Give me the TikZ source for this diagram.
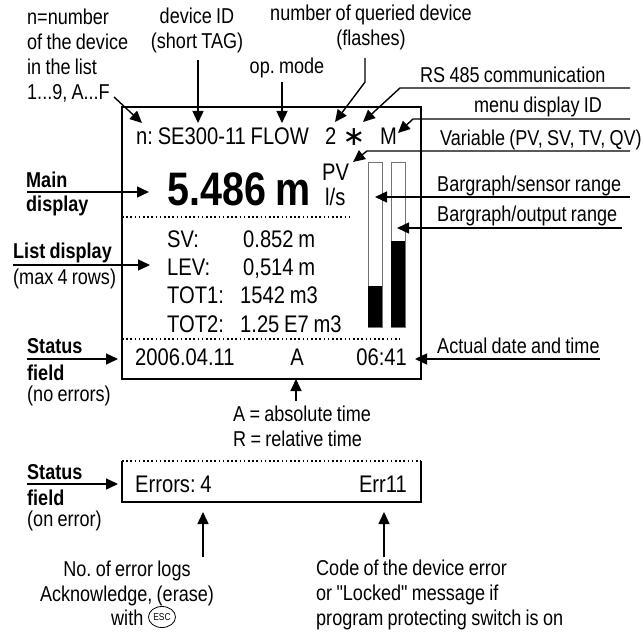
\documentclass[tikz,border=0pt]{standalone}
\usepackage{fontspec}
\setmainfont{Liberation Sans}[FakeStretch=0.84,WordSpace=0.85,Ligatures=TeXOff]
\newfontfamily\symfont{DejaVu Sans}
\usetikzlibrary{arrows.meta,positioning,shapes.geometric}
\newcommand{\lblfont}{\fontsize{21.5}{25}\selectfont}
\newcommand{\lcdfont}{\fontsize{24}{28}\selectfont}
\frenchspacing
\tikzset{
  >={Triangle[length=12pt,width=11pt]},
  lbl/.style={font=\lblfont,inner sep=0pt,anchor=base west},
  blbl/.style={lbl,font=\lblfont\bfseries},
  lcd/.style={font=\lcdfont,inner sep=0pt,anchor=base west},
  arr/.style={->,line width=1.4pt},
  frame/.style={line width=2pt},
  dots/.style={line width=1.6pt,dash pattern=on 1.6pt off 2.6pt},
  bar/.style={draw=black!55,line width=1pt},
}

\begin{document}
\begin{tikzpicture}[x=1pt,y=-1pt]
\useasboundingbox (0,0) rectangle (644,631);

% display frame and separators
\draw[frame] (122,107) rectangle (421,379);
\draw[dots] (122,217) -- (350,217);
\draw[dots] (122,339) -- (400,339);

% header line
\node[lcd] (tag) at (136,145) {n: SE300-11 FLOW};
\node[lcd] (qnum) at (325,145) {2};
\node[inner sep=0pt,font=\symfont\fontsize{27}{27}\selectfont] (comm) at (354,137) {∗};
\node[lcd] (menu) at (380,145) {M};

% main value
\node[lcd,font=\fontsize{47}{50}\selectfont\bfseries] (pv) at (167,205) {5.486 m};
\node[lcd] (var) at (322,180) {PV};
\node[lcd] (unit) at (325,205) {l/s};

% list rows
\foreach \k/\v/\x/\y [count=\i] in {SV:/0.852 m/243/247, LEV:/{0,514 m}/243/275,
    TOT1:/1542 m3/240/303, TOT2:/1.25 E7 m3/240/332}{
  \node[lcd] (key\i) at (167,\y) {\k};
  \node[lcd] (val\i) at (\x,\y) {\v};
}

% bargraphs
\draw[bar] (368,162) rectangle (382,327);
\fill (368,286) rectangle (382,327);
\draw[bar] (391,162) rectangle (405,327);
\fill (391,241) rectangle (405,327);

% status line
\node[lcd] (date) at (135,365) {2006.04.11};
\node[lcd,anchor=base] (tmode) at (297,365) {A};
\node[lcd,anchor=base east] (time) at (407,365) {06:41};

% status field on error
\draw[dots] (122,461) -- (421,461);
\draw[frame] (122,461) -- (122,502) -- (421,502) -- (421,461);
\node[lcd] (errn) at (135,492) {Errors: 4};
\node[lcd,anchor=base east] (errc) at (407,492) {Err11};

% labels (multi-line ones sit on their last baseline)
\node[lbl,align=left] (nlbl) at (27,100) {n=number\\of the device\\in the list\\1...9, A...F};
\node[lbl,anchor=base,align=center] (idlbl) at (197,49) {device ID\\(short TAG)};
\node[lbl,anchor=base] (modelbl) at (287,74) {op. mode};
\node[lbl,anchor=base,align=center] (qlbl) at (371,46) {number of queried device\\(flashes)};
\node[lbl] (rslbl) at (420,83) {RS 485 communication};
\node[lbl,anchor=base] (menulbl) at (538,113) {menu display ID};
\node[lbl] (varlbl) at (440,146) {Variable (PV, SV, TV, QV)};
\node[lbl] (senslbl) at (437,191) {Bargraph/sensor range};
\node[lbl] (outlbl) at (437,221) {Bargraph/output range};
\node[lbl] (datelbl) at (437,353) {Actual date and time};
\node[blbl] (mainlbl) at (26,187) {Main};
\node[blbl] (mainlbl2) at (26,211) {display};
\node[blbl] (listlbl) at (13,258) {List display};
\node[lbl] (listlbl2) at (13,284) {(max 4 rows)};
\node[blbl] (st1lbl) at (27,353) {Status};
\node[blbl] (st1lbl2) at (27,380) {field};
\node[lbl] (st1lbl3) at (27,401) {(no errors)};
\node[blbl] (st2lbl) at (27,479) {Status};
\node[blbl] (st2lbl2) at (27,505) {field};
\node[lbl] (st2lbl3) at (27,526) {(on error)};
\node[lbl,align=left] (timelbl) at (233,446) {A = absolute time\\R = relative time};
\node[lbl,anchor=base,align=center] (cntlbl) at (127,601) {No. of error logs\\Acknowledge, (erase)};
\node[lbl] (withlbl) at (111,625) {with};
\node[draw,ellipse,line width=0.8pt,inner sep=0pt,minimum width=27pt,minimum height=21pt,
  font=\fontsize{10}{10}\selectfont] (esc) at (162,617) {ESC};
\node[lbl,align=left] (codelbl) at (316,625) {Code of the device error\\or "Locked" message if\\program protecting switch is on};

% connector ends
\coordinate (nfrom) at (114,97);   \coordinate (nto) at (142,123);
\coordinate (idfrom) at (198,60);  \coordinate (idto) at (198,123);
\coordinate (mdfrom) at (282,82);  \coordinate (mdto) at (282,123);
\coordinate (qfrom) at (365,58);   \coordinate (qbend) at (365,82);  \coordinate (qto) at (335,122);
\coordinate (rsfrom) at (630,88);  \coordinate (rsbend) at (400,88); \coordinate (rsto) at (363,122);
\coordinate (mnfrom) at (630,119); \coordinate (mnbend) at (413,119); \coordinate (mnto) at (398,133);
\coordinate (vrfrom) at (630,151); \coordinate (vrbend) at (367,151); \coordinate (vrto) at (353,162);
\coordinate (snfrom) at (630,197); \coordinate (snto) at (375,197);
\coordinate (otfrom) at (622,228); \coordinate (otto) at (397,228);
\coordinate (dtfrom) at (600,359); \coordinate (dtto) at (415,359);
\coordinate (mnlfrom) at (27,192); \coordinate (mnlto) at (149,192);
\coordinate (lsfrom) at (13,265);  \coordinate (lsto) at (150,265);
\coordinate (s1from) at (27,359);  \coordinate (s1to) at (118,359);
\coordinate (s2from) at (27,484);  \coordinate (s2to) at (118,484);
\coordinate (afrom) at (296,401);  \coordinate (ato) at (296,379);
\coordinate (ecfrom) at (203,557); \coordinate (ecto) at (203,512);
\coordinate (edfrom) at (384,557); \coordinate (edto) at (384,512);

% connectors
\draw[arr] (nfrom) -- (nto);
\draw[arr] (idfrom) -- (idto);
\draw[arr] (mdfrom) -- (mdto);
\draw[arr] (qfrom) -- (qbend) -- (qto);
\draw[arr] (rsfrom) -- (rsbend) -- (rsto);
\draw[arr] (mnfrom) -- (mnbend) -- (mnto);
\draw[arr] (vrfrom) -- (vrbend) -- (vrto);
\draw[arr] (snfrom) -- (snto);
\draw[arr] (otfrom) -- (otto);
\draw[arr] (dtfrom) -- (dtto);
\draw[arr] (mnlfrom) -- (mnlto);
\draw[arr] (lsfrom) -- (lsto);
\draw[arr] (s1from) -- (s1to);
\draw[arr] (s2from) -- (s2to);
\draw[arr] (afrom) -- (ato);
\draw[arr] (ecfrom) -- (ecto);
\draw[arr] (edfrom) -- (edto);
\end{tikzpicture}
\end{document}
